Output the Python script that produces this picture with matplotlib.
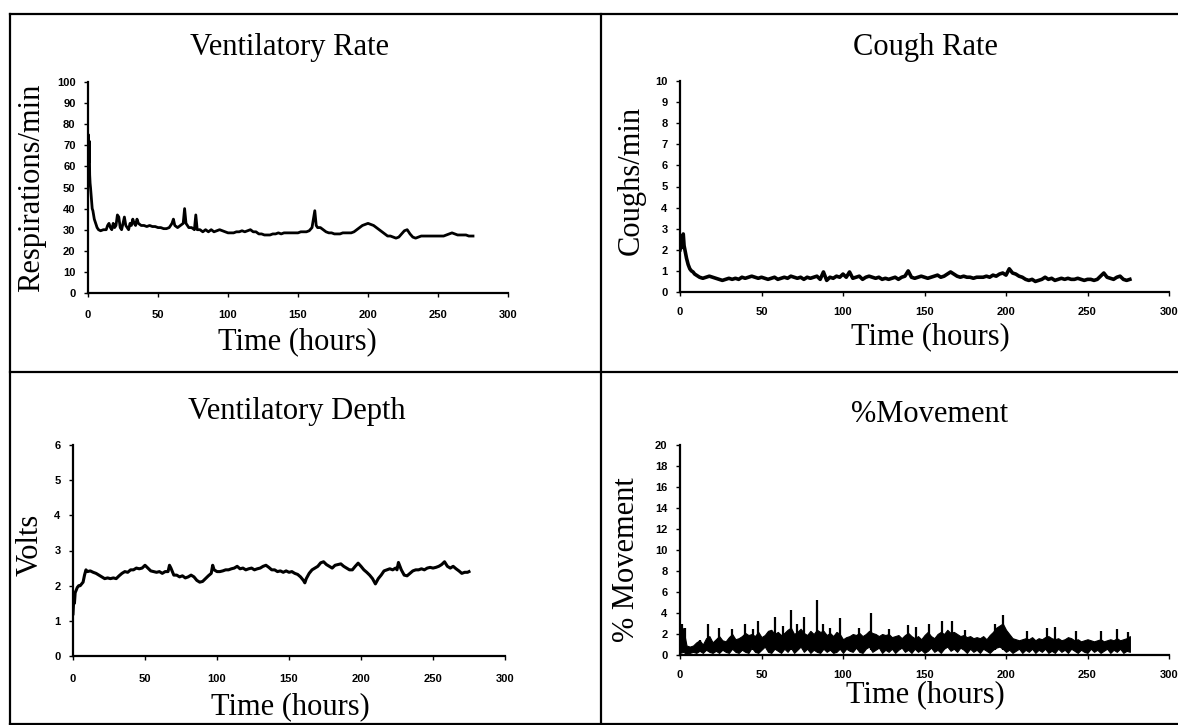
import numpy as np
import matplotlib
matplotlib.use("Agg")
import matplotlib.pyplot as plt
from matplotlib.lines import Line2D

# ---------------- data ----------------
vr_t = [0, 0.3, 0.6, 0.9, 1.2, 1.5, 1.8, 3.0, 3.5, 4.5, 5.5, 6.5, 7.5, 9, 11, 13, 14, 15, 16, 17, 18, 19, 20, 21,
        22, 23, 24, 25, 26, 27, 28, 29, 30, 31, 32, 33, 34, 35, 36, 38, 40, 42, 44, 46, 48, 50, 52, 54, 56, 58,
        60, 61, 62, 64, 66, 68, 69, 70, 72, 74, 76, 77, 78, 80, 82, 84, 86, 88, 90, 92, 94, 96, 98, 100, 102,
        104, 106, 108, 110, 112, 114, 116, 118, 120, 122, 124, 126, 128, 130, 132, 134, 136, 138, 140, 142, 144,
        146, 148, 150, 152, 154, 156, 158, 160, 161, 162, 163, 164, 166, 168, 170, 172, 174, 176, 178, 180, 182,
        184, 186, 188, 190, 192, 194, 196, 198, 200, 202, 204, 206, 208, 210, 212, 214, 216, 218, 220, 222, 224,
        226, 228, 230, 232, 234, 236, 238, 240, 242, 244, 246, 248, 250, 252, 254, 256, 258, 260, 262, 264, 266,
        268, 270, 272, 274, 275]
vr_v = [52, 75, 62, 72, 56, 52, 50, 40, 39, 35, 33, 31, 30, 29.5, 30, 30, 32, 33, 31, 30, 33, 31, 32, 37,
        36, 31, 30, 33, 36, 32, 31, 30, 33, 32, 35, 33, 32, 35, 33, 32, 32, 31.5, 32, 31.5, 31.5, 31, 31, 30.5, 30.5, 31,
        33, 35, 32, 31, 32, 33, 40, 33, 31, 31, 30, 37, 30, 30, 29, 30, 29, 30, 29, 29.5, 30, 29.5, 29, 28.5, 28.5,
        28.5, 29, 29, 29.5, 29, 29.5, 30, 29, 29, 28, 28, 27.5, 27.5, 27.5, 28, 28, 28.5, 28, 28.5, 28.5, 28.5,
        28.5, 28.5, 28.5, 29, 29, 29, 29.5, 31, 35, 39, 32, 31, 31, 30, 29, 28.5, 28.5, 28, 28, 28, 28.5,
        28.5, 28.5, 28.5, 29, 30, 31, 32, 32.5, 33, 32.5, 32, 31, 30, 29, 28, 27, 27, 26.5, 26, 26.5, 28,
        29.5, 30, 28, 26.5, 26, 26.5, 27, 27, 27, 27, 27, 27, 27, 27, 27, 27.5, 28, 28.5, 28, 27.5, 27.5,
        27.5, 27.5, 27, 27, 27]

cr_t = [0, 0.5, 1, 1.5, 2, 2.5, 3, 4, 5, 6, 7, 8, 9, 10, 12, 14, 16, 18, 20, 22, 24, 26, 28, 30, 32, 34, 36, 38,
        40, 42, 44, 46, 48, 50, 52, 54, 56, 58, 60, 62, 64, 66, 68, 70, 72, 74, 76, 78, 80, 82, 84, 86, 88, 90,
        92, 94, 96, 98, 100, 102, 104, 106, 108, 110, 112, 114, 116, 118, 120, 122, 124, 126, 128, 130, 132, 134,
        136, 138, 140, 142, 144, 146, 148, 150, 152, 154, 156, 158, 160, 162, 164, 166, 168, 170, 172, 174, 176,
        178, 180, 182, 184, 186, 188, 190, 192, 194, 196, 198, 200, 202, 204, 206, 208, 210, 212, 214, 216, 218,
        220, 222, 224, 226, 228, 230, 232, 234, 236, 238, 240, 242, 244, 246, 248, 250, 252, 254, 256, 258, 260,
        262, 264, 266, 268, 270, 272, 274, 276]
cr_v = [2.0, 2.3, 2.1, 2.6, 2.75, 2.2, 2.0, 1.6, 1.3, 1.1, 1.0, 0.95, 0.85, 0.8, 0.7, 0.65, 0.7, 0.75, 0.7, 0.65,
        0.6, 0.55, 0.6, 0.65, 0.6, 0.65, 0.6, 0.7, 0.65, 0.7, 0.75, 0.7, 0.65, 0.7, 0.65, 0.6, 0.65, 0.7, 0.6,
        0.65, 0.7, 0.65, 0.75, 0.7, 0.65, 0.7, 0.6, 0.7, 0.65, 0.7, 0.75, 0.6, 0.95, 0.55, 0.7, 0.65, 0.75, 0.7,
        0.85, 0.7, 0.95, 0.65, 0.7, 0.75, 0.6, 0.7, 0.75, 0.7, 0.65, 0.7, 0.6, 0.65, 0.6, 0.65, 0.7, 0.6, 0.7,
        0.75, 1.0, 0.7, 0.65, 0.7, 0.75, 0.7, 0.65, 0.7, 0.75, 0.8, 0.7, 0.75, 0.85, 0.95, 0.85, 0.75, 0.7, 0.75,
        0.7, 0.7, 0.65, 0.7, 0.7, 0.7, 0.75, 0.7, 0.8, 0.75, 0.85, 0.9, 0.8, 1.1, 0.9, 0.85, 0.75, 0.7, 0.6, 0.55,
        0.6, 0.5, 0.55, 0.6, 0.7, 0.6, 0.65, 0.55, 0.6, 0.65, 0.6, 0.65, 0.6, 0.6, 0.65, 0.6, 0.55, 0.6, 0.6,
        0.55, 0.6, 0.75, 0.9, 0.7, 0.65, 0.6, 0.7, 0.75, 0.6, 0.55, 0.6]

vd_t = [0, 0.5, 1, 1.5, 2, 3, 4, 5, 6, 7, 8, 9, 10, 12, 14, 16, 18, 20, 22, 24, 26, 28, 30, 32, 34, 36, 38, 40,
        42, 44, 46, 48, 50, 52, 54, 56, 58, 60, 62, 64, 66, 67, 68, 70, 72, 74, 76, 78, 80, 82, 84, 86, 88, 90,
        92, 94, 96, 97, 98, 100, 102, 104, 106, 108, 110, 112, 114, 116, 118, 120, 122, 124, 126, 128, 130, 132,
        134, 136, 138, 140, 142, 144, 146, 148, 150, 152, 154, 156, 158, 160, 161, 162, 164, 166, 168, 170, 172,
        174, 176, 178, 180, 182, 184, 186, 188, 190, 192, 194, 196, 198, 200, 202, 204, 206, 208, 210, 212, 214,
        216, 218, 220, 222, 224, 225, 226, 228, 230, 232, 234, 236, 238, 240, 242, 244, 246, 248, 250, 252, 254,
        256, 258, 260, 262, 264, 266, 268, 270, 272, 274, 275]
vd_v = [1.2, 1.6, 1.5, 1.8, 1.85, 1.95, 2.0, 2.0, 2.05, 2.1, 2.3, 2.45, 2.4, 2.42, 2.38, 2.35, 2.3, 2.25, 2.2,
        2.22, 2.2, 2.22, 2.2, 2.28, 2.35, 2.4, 2.38, 2.45, 2.45, 2.5, 2.48, 2.5, 2.58, 2.5, 2.42, 2.4, 2.38, 2.4,
        2.35, 2.4, 2.4, 2.58, 2.5, 2.3, 2.3, 2.25, 2.28, 2.22, 2.25, 2.3, 2.25, 2.15, 2.1, 2.12, 2.2, 2.28, 2.35,
        2.58, 2.45, 2.4, 2.4, 2.42, 2.45, 2.45, 2.48, 2.5, 2.55, 2.48, 2.5, 2.45, 2.48, 2.5, 2.45, 2.48, 2.5,
        2.55, 2.58, 2.52, 2.45, 2.45, 2.4, 2.42, 2.38, 2.42, 2.38, 2.4, 2.35, 2.32, 2.25, 2.15, 2.08, 2.2, 2.35,
        2.45, 2.5, 2.55, 2.65, 2.68, 2.6, 2.55, 2.5, 2.58, 2.6, 2.62, 2.55, 2.5, 2.45, 2.45, 2.55, 2.64, 2.55,
        2.45, 2.38, 2.3, 2.2, 2.05, 2.2, 2.3, 2.42, 2.45, 2.48, 2.45, 2.5, 2.45, 2.66, 2.45, 2.3, 2.28, 2.35,
        2.42, 2.45, 2.45, 2.48, 2.45, 2.5, 2.52, 2.5, 2.52, 2.55, 2.6, 2.68, 2.55, 2.5, 2.55, 2.48, 2.42, 2.35,
        2.38, 2.38, 2.4]

mv_t = list(range(0, 277, 2))
mv_hi = [2.8, 2.5, 0.9, 0.8, 0.9, 1.2, 1.4, 1.0, 1.6, 1.8, 1.2, 1.5, 1.8, 1.4, 1.3, 1.7, 2.0, 1.5, 1.6, 1.8,
         2.1, 1.9, 2.0, 1.8, 2.2, 1.7, 1.9, 2.3, 2.4, 2.0, 2.2, 1.9, 2.1, 2.4, 2.6, 2.0, 2.2, 2.5, 2.1, 1.9,
         2.3, 2.0, 2.4, 2.2, 2.3, 1.9, 2.1, 1.8, 2.2, 2.0, 1.5, 1.7, 1.8, 2.0, 1.9, 2.1, 1.8, 2.0, 2.3, 2.1,
         2.0, 1.8, 2.0, 1.9, 2.0, 1.7, 1.8, 1.9, 1.6, 1.9, 2.1, 1.8, 1.6, 1.8, 1.5, 1.9, 2.2, 1.8, 1.6, 2.0,
         2.2, 2.0, 2.4, 2.1, 2.2, 2.0, 1.8, 1.9, 1.7, 1.8, 1.6, 1.7, 1.6, 1.8, 1.5, 1.9, 2.2, 2.6, 2.8, 3.0,
         2.4, 2.0, 1.6, 1.5, 1.4, 1.5, 1.6, 1.5, 1.7, 1.4, 1.6, 1.5, 1.7, 1.8, 1.6, 1.5, 1.6, 1.4, 1.5, 1.7,
         1.6, 1.4, 1.5, 1.3, 1.4, 1.5, 1.4, 1.3, 1.4, 1.5, 1.3, 1.4, 1.5, 1.4, 1.6, 1.4, 1.5, 1.6, 1.8]
mv_lo = [0.2, 0.3, 0.1, 0.2, 0.3, 0.2, 0.4, 0.2, 0.5, 0.3, 0.2, 0.4, 0.2, 0.5, 0.3, 0.2, 0.6, 0.3, 0.2, 0.5,
         0.3, 0.2, 0.7, 0.3, 0.2, 0.5, 0.8, 0.3, 0.2, 0.6, 0.4, 0.2, 0.6, 0.3, 0.7, 0.2, 0.5, 0.8, 0.3, 0.6,
         0.2, 0.5, 0.3, 0.2, 0.6, 0.3, 0.5, 0.2, 0.3, 0.6, 0.2, 0.6, 0.4, 0.3, 0.7, 0.3, 0.2, 0.6, 0.8, 0.3,
         0.5, 0.7, 0.2, 0.5, 0.3, 0.6, 0.2, 0.5, 0.7, 0.3, 0.5, 0.2, 0.6, 0.3, 0.5, 0.2, 0.4, 0.7, 0.3, 0.5,
         0.2, 0.6, 0.8, 0.4, 0.6, 0.3, 0.7, 0.5, 0.2, 0.6, 0.3, 0.5, 0.2, 0.6, 0.4, 0.2, 0.5, 0.7, 0.8, 0.6,
         0.3, 0.5, 0.2, 0.4, 0.6, 0.2, 0.5, 0.3, 0.6, 0.2, 0.5, 0.3, 0.6, 0.2, 0.4, 0.2, 0.6, 0.3, 0.5, 0.2,
         0.6, 0.4, 0.2, 0.5, 0.3, 0.2, 0.6, 0.3, 0.5, 0.2, 0.4, 0.6, 0.2, 0.5, 0.3, 0.6, 0.2, 0.4, 0.3]
mv_spike_t = [1, 3, 12, 17, 24, 32, 40, 45, 48, 58, 63, 68, 72, 76, 84, 88, 92, 98, 110, 117, 128, 140, 145,
              153, 161, 167, 175, 193, 198, 213, 225, 230, 243, 258, 268, 275]
mv_spike_v = [3.0, 2.6, 1.4, 3.0, 2.6, 2.5, 3.0, 2.5, 3.2, 3.6, 2.8, 4.3, 3.0, 3.6, 5.2, 3.0, 2.6, 3.5, 2.6, 4.0,
              2.5, 2.9, 2.7, 3.0, 3.2, 3.2, 2.4, 3.0, 3.8, 2.3, 2.6, 2.7, 2.3, 2.3, 2.5, 2.2]

titles = ["Ventilatory Rate", "Cough Rate", "Ventilatory Depth", "%Movement"]
ylabels = ["Respirations/min", "Coughs/min", "Volts", "% Movement"]
xlabel = "Time (hours)"
x_ticks = [0, 50, 100, 150, 200, 250, 300]
y_ticks = [list(range(0, 101, 10)), list(range(0, 11, 1)), list(range(0, 7, 1)), list(range(0, 21, 2))]

# ---------------- layout (pixel positions) ----------------
W, H = 1178, 725
fig = plt.figure(figsize=(W / 100, H / 100), dpi=100)
fig.patch.set_facecolor("white")

def fx(x):
    return x / W

def fy(y):
    return 1 - y / H

# x0, x300, ytop, y0
axes_px = [(88, 508, 82, 293), (680, 1169, 81, 292), (73, 505, 445, 656), (680, 1169, 445, 655)]
title_px = [(290, 47), (925, 47), (297, 412), (930, 415)]
xlab_px = [(297, 342), (930, 337), (290, 707), (925, 695)]
ylab_px = [(32, 188), (631, 180), (30, 545), (626, 560)]
xpad = [9, 8, 10, 8]

SERIF = ["Liberation Serif", "DejaVu Serif"]
TXT = 22

axs = []
for i, (l, r, t, b) in enumerate(axes_px):
    ax = fig.add_axes([fx(l), fy(b), fx(r) - fx(l), fy(t) - fy(b)])
    axs.append(ax)
    ax.set_xlim(0, 300)
    ax.set_ylim(y_ticks[i][0], y_ticks[i][-1])
    ax.set_xticks(x_ticks)
    ax.set_yticks(y_ticks[i])
    for s in ["top", "right"]:
        ax.spines[s].set_visible(False)
    for s in ["left", "bottom"]:
        ax.spines[s].set_linewidth(1.6)
        ax.spines[s].set_color("black")
    ax.tick_params(axis="both", direction="out", length=3, width=1, colors="black")
    ax.tick_params(axis="y", pad=6)
    ax.tick_params(axis="x", pad=xpad[i])
    for lab in ax.get_xticklabels() + ax.get_yticklabels():
        lab.set_fontfamily(["Liberation Sans", "DejaVu Sans"])
        lab.set_fontweight("bold")
        lab.set_fontsize(8)
    ax.patch.set_alpha(0)
    fig.text(fx(title_px[i][0]), fy(title_px[i][1]), titles[i], family=SERIF, fontsize=TXT,
             ha="center", va="center")
    fig.text(fx(xlab_px[i][0]), fy(xlab_px[i][1]), xlabel, family=SERIF, fontsize=TXT,
             ha="center", va="center")
    fig.text(fx(ylab_px[i][0]), fy(ylab_px[i][1]), ylabels[i], family=SERIF, fontsize=TXT,
             ha="center", va="center", rotation=90)

axs[0].plot(vr_t, vr_v, color="black", lw=2.0)
axs[1].plot(cr_t, cr_v, color="black", lw=2.6)
axs[2].plot(vd_t, vd_v, color="black", lw=2.2)
axs[3].fill_between(mv_t, mv_lo, mv_hi, color="black", lw=0.8)
axs[3].vlines(mv_spike_t, 0.5, mv_spike_v, color="black", lw=1.6)

# panel borders
border = dict(color="black", lw=1.6, transform=fig.transFigure)
fig.add_artist(Line2D([fx(10), fx(W)], [fy(14), fy(14)], **border))
fig.add_artist(Line2D([fx(10), fx(10)], [fy(14), fy(H - 1)], **border))
fig.add_artist(Line2D([fx(601), fx(601)], [fy(14), fy(H - 1)], **border))
fig.add_artist(Line2D([fx(10), fx(W)], [fy(372), fy(372)], **border))
fig.add_artist(Line2D([fx(10), fx(W)], [fy(H - 1), fy(H - 1)], **border))

fig.savefig("out.png", dpi=100)
